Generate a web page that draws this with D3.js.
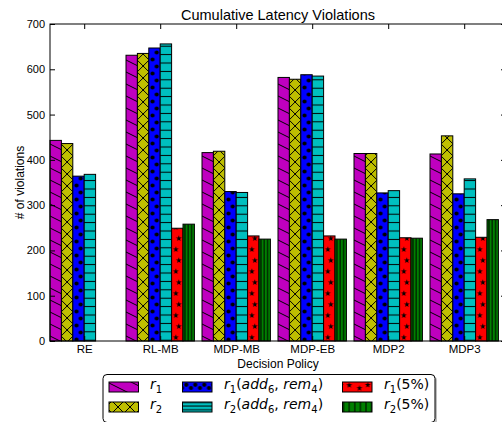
<!DOCTYPE html>
<html>
<head>
<meta charset="utf-8">
<script src="https://cdn.jsdelivr.net/npm/d3@7"></script>
<style>
  html, body { margin: 0; padding: 0; background: #fff; overflow: hidden; }
  text { font-family: "Liberation Sans", Arial, Helvetica, sans-serif; fill: #000; }
  .leg text { font-family: "DejaVu Sans", sans-serif; }
</style>
</head>
<body>
<svg id="chart" width="502" height="422"></svg>
<script>
// ---- data ----
const categories = ["RE", "RL-MB", "MDP-MB", "MDP-EB", "MDP2", "MDP3"];
const r1      = [443, 631, 416, 582, 414, 413];
const r2      = [436, 635, 419, 578, 414, 453];
const r1Add   = [364, 647, 330, 588, 327, 325];
const r2Add   = [368, 656, 328, 585, 332, 358];
const r1Pct   = [0, 249, 232, 232, 228, 229];
const r2Pct   = [0, 258, 225, 225, 227, 268];
const yTicks  = [0, 100, 200, 300, 400, 500, 600, 700];

const seriesValues  = [r1, r2, r1Add, r2Add, r1Pct, r2Pct];
const seriesColors  = ["#bf00bf", "#bfbf00", "#0000ff", "#00bfbf", "#ff0000", "#008000"];
const seriesHatches = ["back", "cross", "dots", "hline", "stars", "vline"];

// legend labels: pieces of math text (i = italic, s = subscript)
const legendLabels = [
  [{t: "r", i: 1}, {t: "1", s: 1}],
  [{t: "r", i: 1}, {t: "2", s: 1}],
  [{t: "r", i: 1}, {t: "1", s: 1}, {t: "("}, {t: "add", i: 1}, {t: "6", s: 1}, {t: ", "}, {t: "rem", i: 1}, {t: "4", s: 1}, {t: ")"}],
  [{t: "r", i: 1}, {t: "2", s: 1}, {t: "("}, {t: "add", i: 1}, {t: "6", s: 1}, {t: ", "}, {t: "rem", i: 1}, {t: "4", s: 1}, {t: ")"}],
  [{t: "r", i: 1}, {t: "1", s: 1}, {t: "(5%)"}],
  [{t: "r", i: 1}, {t: "2", s: 1}, {t: "(5%)"}]
];

// ---- layout ----
const svg = d3.select("#chart");
const defs = svg.append("defs");
const barW = 0.15;
const x = d3.scaleLinear().domain([0, 6]).range([50, 506]);
const y = d3.scaleLinear().domain([0, 700]).range([341, 24]);
const pxW = x(barW) - x(0);

const star = d3.symbol().type(d3.symbolStar).size(11)();

// hatch pattern builder
function makePattern(id, color, kind, ox, oy, p) {
  const pat = defs.append("pattern").attr("id", id)
    .attr("patternUnits", "userSpaceOnUse")
    .attr("x", ox).attr("y", oy).attr("width", p.w).attr("height", p.h);
  pat.append("rect").attr("width", p.w).attr("height", p.h).attr("fill", color);
  const ln = (x1, y1, x2, y2) => pat.append("line")
    .attr("x1", x1).attr("y1", y1).attr("x2", x2).attr("y2", y2)
    .attr("stroke", "#000").attr("stroke-width", 1);
  if (kind === "back") {
    for (const k of [-1, 0, 1]) ln(0, k * p.h, p.w, (k + 1) * p.h);
  } else if (kind === "cross") {
    for (const k of [-1, 0, 1]) {
      ln(0, k * p.h, p.w, (k + 1) * p.h);
      ln(0, (k + 1) * p.h, p.w, k * p.h);
    }
  } else if (kind === "dots") {
    p.pts.forEach(([cx, cy]) => pat.append("circle").attr("cx", cx).attr("cy", cy).attr("r", p.r).attr("fill", "#000"));
  } else if (kind === "hline") {
    ln(0, p.h / 2, p.w, p.h / 2);
  } else if (kind === "vline") {
    ln(p.w / 2, 0, p.w / 2, p.h);
  } else if (kind === "stars") {
    p.pts.forEach(([cx, cy]) => pat.append("path").attr("d", star)
      .attr("transform", `translate(${cx},${cy})`).attr("fill", "#000"));
  }
}

function barPattern(kind, bx) {
  switch (kind) {
    case "back":  return {ox: bx, oy: 0, p: {w: 24, h: 12}};
    case "cross": return {ox: bx + pxW / 2 - 6, oy: 0, p: {w: 12, h: 12}};
    case "dots":  return {ox: bx, oy: 0, p: {w: pxW, h: 14, r: 2.1, pts: [[3.7, 3.5], [7.9, 10.5]]}};
    case "hline": return {ox: 0, oy: 0, p: {w: 10, h: 8.4}};
    case "stars": return {ox: bx, oy: 2, p: {w: pxW, h: 22, pts: [[4.3, 5.5], [7.3, 16.5]]}};
    case "vline": return {ox: bx + 0.3, oy: 0, p: {w: 3.3, h: 10}};
  }
}

// ---- bars ----
const gBars = svg.append("g");
seriesValues.forEach((vals, s) => {
  vals.forEach((v, i) => {
    const bx = x(i + s * barW);
    const id = `h${s}_${i}`;
    const bp = barPattern(seriesHatches[s], bx);
    makePattern(id, seriesColors[s], seriesHatches[s], bp.ox, bp.oy, bp.p);
    gBars.append("rect")
      .attr("x", bx).attr("y", y(v))
      .attr("width", pxW).attr("height", y(0) - y(v))
      .attr("fill", `url(#${id})`)
      .attr("stroke", "#000").attr("stroke-width", 1);
  });
});

// ---- axes ----
const tickPos = categories.map((c, i) => i + 3 * barW);

const yAxis = svg.append("g").attr("transform", `translate(${x(0)},0)`)
  .call(d3.axisLeft(y).tickValues(yTicks).tickSizeInner(-5).tickSizeOuter(0).tickPadding(5));
const yAxisR = svg.append("g").attr("transform", `translate(${x(6)},0)`)
  .call(d3.axisRight(y).tickValues(yTicks).tickSizeInner(-5).tickSizeOuter(0).tickFormat(""));
const xAxis = svg.append("g").attr("transform", `translate(0,${y(0)})`)
  .call(d3.axisBottom(x).tickValues(tickPos).tickFormat((d, i) => categories[i])
    .tickSizeInner(-5).tickSizeOuter(0).tickPadding(4));
const xAxisT = svg.append("g").attr("transform", `translate(0,${y(700)})`)
  .call(d3.axisTop(x).tickValues(tickPos).tickFormat("").tickSizeInner(-5).tickSizeOuter(0));

[yAxis, yAxisR, xAxis, xAxisT].forEach(g => {
  g.select(".domain").remove();
  g.selectAll(".tick line").attr("stroke", "#000");
});
yAxis.selectAll("text").style("font-size", "11px").style("font-family", "Liberation Sans, Arial, sans-serif");
xAxis.selectAll("text").style("font-size", "11.5px").style("font-family", "Liberation Sans, Arial, sans-serif");

// frame
svg.append("rect")
  .attr("x", x(0)).attr("y", y(700))
  .attr("width", x(6) - x(0)).attr("height", y(0) - y(700))
  .attr("fill", "none").attr("stroke", "#000").attr("stroke-width", 1);

// ---- titles ----
svg.append("text").attr("x", (x(0) + x(6)) / 2).attr("y", 19.5)
  .attr("text-anchor", "middle").style("font-size", "14.5px")
  .text("Cumulative Latency Violations");
svg.append("text").attr("x", (x(0) + x(6)) / 2).attr("y", 367.5)
  .attr("text-anchor", "middle").style("font-size", "12px")
  .text("Decision Policy");
svg.append("text")
  .attr("transform", `translate(24,${(y(0) + y(700)) / 2}) rotate(-90)`)
  .attr("text-anchor", "middle").style("font-size", "12px")
  .text("# of violations");

// ---- legend ----
const leg = svg.append("g").attr("class", "leg");
leg.append("rect").attr("x", 105).attr("y", 376.5).attr("width", 332).attr("height", 48)
  .attr("rx", 4).attr("fill", "#bdbdbd");
leg.append("rect").attr("x", 103).attr("y", 374.5).attr("width", 332).attr("height", 48)
  .attr("rx", 4).attr("fill", "#fff").attr("stroke", "#000").attr("stroke-width", 1);

const legCols = [[109, 150], [182.5, 224], [342.5, 384]];
const legRows = [382, 402];
const patchW = 29.5, patchH = 10;

function legendPattern(kind, px, py) {
  switch (kind) {
    case "back":  return {ox: px - 4, oy: py - 1, p: {w: 24, h: 12}};
    case "cross": return {ox: px + 3, oy: py - 1, p: {w: 12, h: 12}};
    case "dots":  return {ox: px + 6, oy: py, p: {w: 9, h: patchH, r: 2.1, pts: [[2.5, 6], [6.8, 2.8]]}};
    case "hline": return {ox: px, oy: py - 1.3, p: {w: 10, h: 3.6}};
    case "stars": return {ox: px + 2, oy: py, p: {w: 27, h: patchH, pts: [[4.8, 3.3], [15, 6.2], [23.3, 3]]}};
    case "vline": return {ox: px + 3.9, oy: py, p: {w: 5.6, h: patchH}};
  }
}

legendLabels.forEach((parts, s) => {
  const col = Math.floor(s / 2), row = s % 2;
  const px = legCols[col][0], py = legRows[row];
  const lp = legendPattern(seriesHatches[s], px, py);
  const id = `lg${s}`;
  makePattern(id, seriesColors[s], seriesHatches[s], lp.ox, lp.oy, lp.p);
  leg.append("rect").attr("x", px).attr("y", py).attr("width", patchW).attr("height", patchH)
    .attr("fill", `url(#${id})`).attr("stroke", "#000").attr("stroke-width", 1);

  const t = leg.append("text").attr("x", legCols[col][1]).attr("y", py + 6.5)
    .style("font-size", "14px");
  let sub = false;
  parts.forEach(pt => {
    const ts = t.append("tspan").text(pt.t);
    if (pt.i) ts.style("font-style", "italic");
    if (pt.s && !sub) { ts.attr("dy", 4).style("font-size", "10px"); sub = true; }
    else if (pt.s) { ts.style("font-size", "10px"); }
    else if (sub) { ts.attr("dy", -4); sub = false; }
  });
});
</script>
</body>
</html>
